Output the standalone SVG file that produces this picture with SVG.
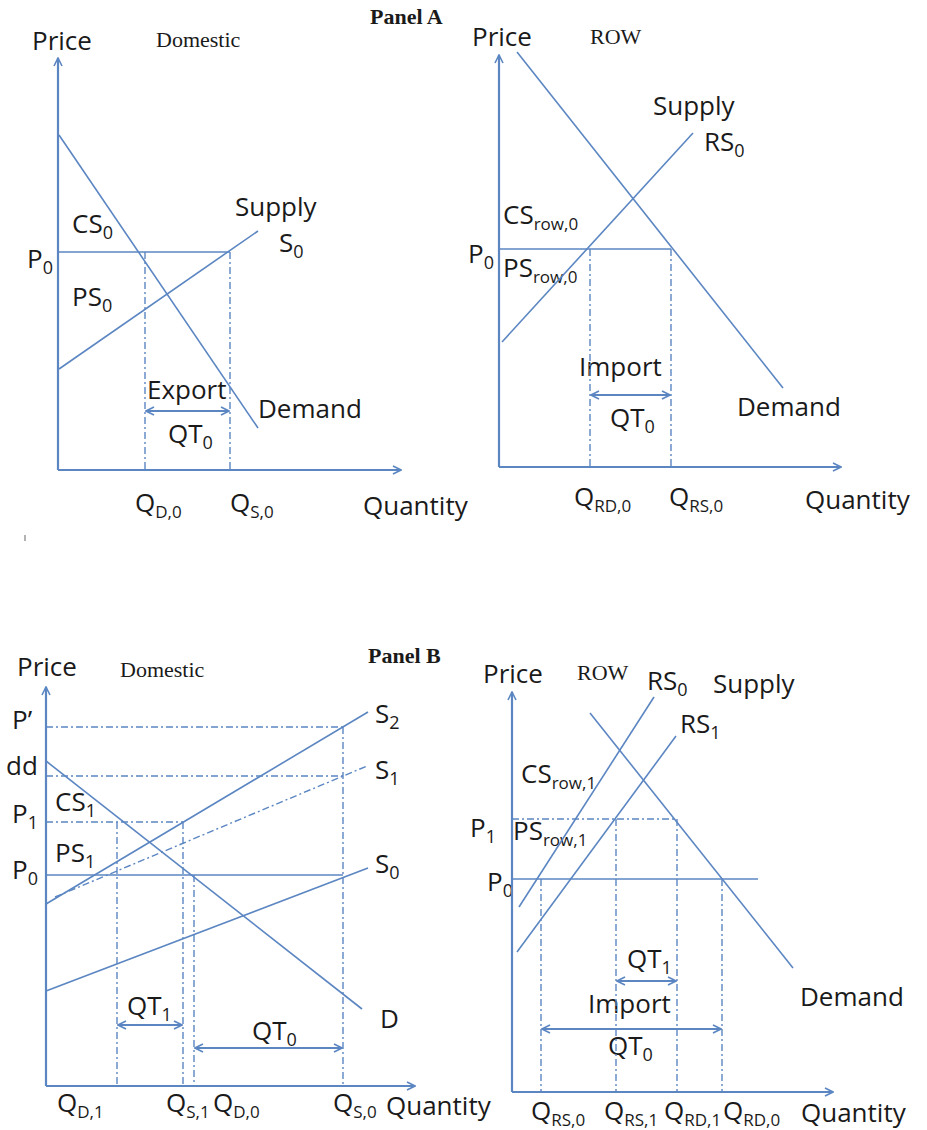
<svg xmlns="http://www.w3.org/2000/svg" width="927" height="1130" viewBox="0 0 927 1130">
<defs>
<style>
.t{font-family:"Open Sans","Liberation Sans",sans-serif;font-size:26px;fill:#1a1a1a}
.sb{font-size:18px}
.sr{font-size:17px}
.sf{font-family:"Liberation Serif",serif;font-size:22px;fill:#1a1a1a}
.pn{font-family:"Liberation Serif",serif;font-size:22px;font-weight:bold;fill:#1a1a1a}
.ax{stroke:#5b86c2;stroke-width:2.2;fill:none}
.ln{stroke:#5b86c2;stroke-width:1.6;fill:none}
.dd{stroke:#5b86c2;stroke-width:1.4;fill:none;stroke-dasharray:7 3 2 3}
.ar{stroke:#5b86c2;stroke-width:1.8;fill:none}
</style>
<marker id="chev" viewBox="0 0 10 10" refX="9" refY="5" markerWidth="10" markerHeight="10" markerUnits="userSpaceOnUse" orient="auto-start-reverse">
<path d="M1,1 L9,5 L1,9" fill="none" stroke="#5b86c2" stroke-width="1.6"/>
</marker>
</defs>
<rect width="927" height="1130" fill="#ffffff"/>

<text class="pn" x="370" y="24">Panel A</text>
<text class="pn" x="368" y="663">Panel B</text>

<!-- Panel A Domestic -->
<g id="panelA-domestic">
<text class="t" x="32" y="50">Price</text>
<text class="sf" x="156" y="47">Domestic</text>
<text class="t" x="72" y="233">CS<tspan class="sb" dy="6">0</tspan></text>
<text class="t" x="27" y="268">P<tspan class="sb" dy="6">0</tspan></text>
<text class="t" x="72" y="306">PS<tspan class="sb" dy="6">0</tspan></text>
<text class="t" x="235" y="216">Supply</text>
<text class="t" x="279" y="252">S<tspan class="sb" dy="6">0</tspan></text>
<text class="t" x="147" y="399">Export</text>
<text class="t" x="168" y="443">QT<tspan class="sb" dy="6">0</tspan></text>
<text class="t" x="258" y="418">Demand</text>
<text class="t" x="135" y="512">Q<tspan class="sr" dy="6">D,0</tspan></text>
<text class="t" x="230" y="512">Q<tspan class="sr" dy="6">S,0</tspan></text>
<text class="t" x="363" y="515">Quantity</text>
</g>

<!-- Panel A ROW -->
<g id="panelA-row">
<text class="t" x="472" y="46">Price</text>
<text class="sf" x="590" y="44">ROW</text>
<text class="t" x="653" y="115">Supply</text>
<text class="t" x="704" y="151">RS<tspan class="sb" dy="6">0</tspan></text>
<text class="t" x="503" y="224">CS<tspan class="sr" dy="6">row,0</tspan></text>
<text class="t" x="468" y="263">P<tspan class="sb" dy="6">0</tspan></text>
<text class="t" x="503" y="277">PS<tspan class="sr" dy="6">row,0</tspan></text>
<text class="t" x="579" y="376">Import</text>
<text class="t" x="610" y="427">QT<tspan class="sb" dy="6">0</tspan></text>
<text class="t" x="737" y="416">Demand</text>
<text class="t" x="574" y="506">Q<tspan class="sr" dy="6">RD,0</tspan></text>
<text class="t" x="669" y="506">Q<tspan class="sr" dy="6">RS,0</tspan></text>
<text class="t" x="805" y="509">Quantity</text>
</g>

<!-- Panel B Domestic -->
<g id="panelB-domestic">
<text class="t" x="17" y="676">Price</text>
<text class="sf" x="120" y="677">Domestic</text>
<text class="t" x="12" y="729">P’</text>
<text class="t" x="6" y="775">dd</text>
<text class="t" x="55" y="811">CS<tspan class="sb" dy="6">1</tspan></text>
<text class="t" x="12" y="823">P<tspan class="sb" dy="6">1</tspan></text>
<text class="t" x="55" y="862">PS<tspan class="sb" dy="6">1</tspan></text>
<text class="t" x="12" y="879">P<tspan class="sb" dy="6">0</tspan></text>
<text class="t" x="375" y="723">S<tspan class="sb" dy="6">2</tspan></text>
<text class="t" x="375" y="779">S<tspan class="sb" dy="6">1</tspan></text>
<text class="t" x="375" y="873">S<tspan class="sb" dy="6">0</tspan></text>
<text class="t" x="380" y="1028">D</text>
<text class="t" x="127" y="1015">QT<tspan class="sb" dy="6">1</tspan></text>
<text class="t" x="252" y="1040">QT<tspan class="sb" dy="6">0</tspan></text>
<text class="t" x="57" y="1112">Q<tspan class="sr" dy="6">D,1</tspan></text>
<text class="t" x="166" y="1112">Q<tspan class="sr" dy="6">S,1</tspan></text>
<text class="t" x="213" y="1112">Q<tspan class="sr" dy="6">D,0</tspan></text>
<text class="t" x="333" y="1112">Q<tspan class="sr" dy="6">S,0</tspan></text>
<text class="t" x="386" y="1115">Quantity</text>
</g>

<!-- Panel B ROW -->
<g id="panelB-row">
<text class="t" x="483" y="683">Price</text>
<text class="sf" x="577" y="680">ROW</text>
<text class="t" x="647" y="690">RS<tspan class="sb" dy="6">0</tspan></text>
<text class="t" x="713" y="693">Supply</text>
<text class="t" x="680" y="733">RS<tspan class="sb" dy="6">1</tspan></text>
<text class="t" x="521" y="783">CS<tspan class="sr" dy="6">row,1</tspan></text>
<text class="t" x="470" y="837">P<tspan class="sb" dy="6">1</tspan></text>
<text class="t" x="513" y="840">PS<tspan class="sr" dy="6">row,1</tspan></text>
<text class="t" x="487" y="891">P<tspan class="sb" dy="6">0</tspan></text>
<text class="t" x="627" y="968">QT<tspan class="sb" dy="6">1</tspan></text>
<text class="t" x="588" y="1013">Import</text>
<text class="t" x="608" y="1055">QT<tspan class="sb" dy="6">0</tspan></text>
<text class="t" x="800" y="1006">Demand</text>
<text class="t" x="531" y="1120">Q<tspan class="sr" dy="6">RS,0</tspan></text>
<text class="t" x="604" y="1120">Q<tspan class="sr" dy="6">RS,1</tspan></text>
<text class="t" x="664" y="1120">Q<tspan class="sr" dy="6">RD,1</tspan></text>
<text class="t" x="723" y="1120">Q<tspan class="sr" dy="6">RD,0</tspan></text>
<text class="t" x="801" y="1122">Quantity</text>
</g>

<g id="connectors">
<!-- Panel A domestic -->
<line class="ax" x1="58" y1="470" x2="58" y2="58" marker-end="url(#chev)"/>
<line class="ax" x1="58" y1="470" x2="401" y2="470" marker-end="url(#chev)"/>
<line class="ln" x1="59" y1="135" x2="258" y2="428"/>
<line class="ln" x1="59" y1="369" x2="258" y2="231"/>
<line class="ln" x1="58" y1="252" x2="230" y2="252"/>
<line class="dd" x1="145" y1="252" x2="145" y2="470"/>
<line class="dd" x1="230" y1="252" x2="230" y2="470"/>
<line class="ar" x1="146" y1="411" x2="229" y2="411" marker-start="url(#chev)" marker-end="url(#chev)"/>
<line x1="25" y1="535" x2="25" y2="541" stroke="#999" stroke-width="1.5"/>

<!-- Panel A ROW -->
<line class="ax" x1="499" y1="467" x2="499" y2="55" marker-end="url(#chev)"/>
<line class="ax" x1="499" y1="467" x2="841" y2="467" marker-end="url(#chev)"/>
<line class="ln" x1="517" y1="52" x2="783" y2="388"/>
<line class="ln" x1="502" y1="342" x2="693" y2="133"/>
<line class="ln" x1="499" y1="249" x2="671" y2="249"/>
<line class="dd" x1="590" y1="249" x2="590" y2="467"/>
<line class="dd" x1="671" y1="249" x2="671" y2="467"/>
<line class="ar" x1="591" y1="395" x2="670" y2="395" marker-start="url(#chev)" marker-end="url(#chev)"/>

<!-- Panel B domestic -->
<line class="ax" x1="46" y1="1086" x2="46" y2="687" marker-end="url(#chev)"/>
<line class="ax" x1="46" y1="1086" x2="415" y2="1086" marker-end="url(#chev)"/>
<line class="dd" x1="46" y1="727" x2="343" y2="727"/>
<line class="dd" x1="46" y1="776" x2="343" y2="776"/>
<line class="dd" x1="46" y1="822" x2="183" y2="822"/>
<line class="ln" x1="46" y1="875" x2="343" y2="875"/>
<line class="ln" x1="46" y1="904" x2="368" y2="712"/>
<line class="dd" x1="55" y1="897" x2="367" y2="766"/>
<line class="ln" x1="46" y1="991" x2="368" y2="868"/>
<line class="ln" x1="46" y1="761" x2="362" y2="1009"/>
<line class="dd" x1="117" y1="822" x2="117" y2="1086"/>
<line class="dd" x1="183" y1="822" x2="183" y2="1086"/>
<line class="dd" x1="194" y1="875" x2="194" y2="1086"/>
<line class="dd" x1="343" y1="727" x2="343" y2="1086"/>
<line class="ar" x1="118" y1="1025" x2="182" y2="1025" marker-start="url(#chev)" marker-end="url(#chev)"/>
<line class="ar" x1="195" y1="1048" x2="342" y2="1048" marker-start="url(#chev)" marker-end="url(#chev)"/>

<!-- Panel B ROW -->
<line class="ax" x1="512" y1="1092" x2="512" y2="692" marker-end="url(#chev)"/>
<line class="ax" x1="512" y1="1092" x2="833" y2="1092" marker-end="url(#chev)"/>
<line class="ln" x1="519" y1="907" x2="654" y2="697"/>
<line class="ln" x1="517" y1="952" x2="676" y2="736"/>
<line class="ln" x1="590" y1="713" x2="793" y2="968"/>
<line class="dd" x1="512" y1="819" x2="677" y2="819"/>
<line class="ln" x1="512" y1="879" x2="758" y2="879"/>
<line class="dd" x1="541" y1="879" x2="541" y2="1092"/>
<line class="dd" x1="616" y1="819" x2="616" y2="1092"/>
<line class="dd" x1="677" y1="819" x2="677" y2="1092"/>
<line class="dd" x1="722" y1="879" x2="722" y2="1092"/>
<line class="ar" x1="617" y1="981" x2="676" y2="981" marker-start="url(#chev)" marker-end="url(#chev)"/>
<line class="ar" x1="542" y1="1029" x2="721" y2="1029" marker-start="url(#chev)" marker-end="url(#chev)"/>
</g>
</svg>
